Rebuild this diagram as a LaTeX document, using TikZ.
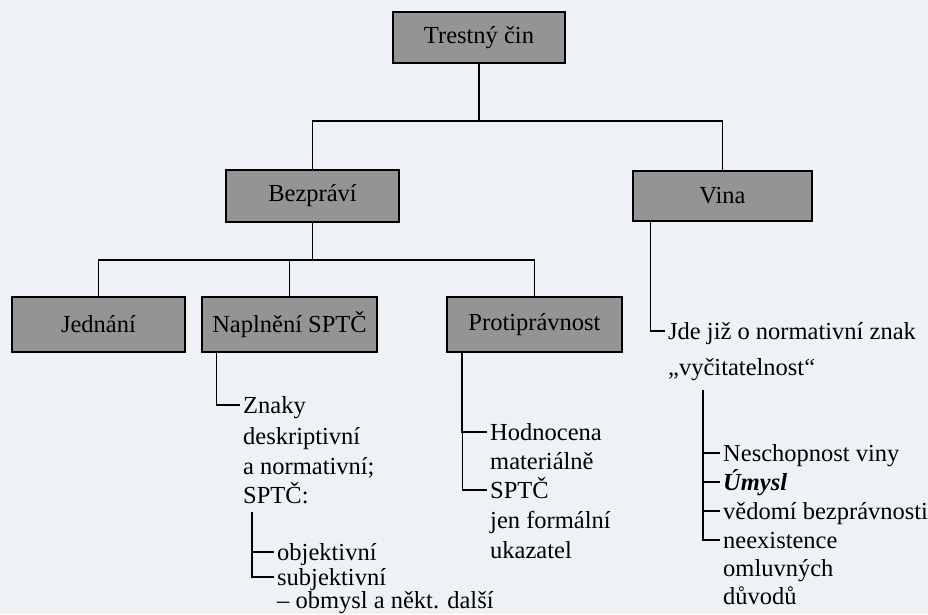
\documentclass[tikz,border=0pt]{standalone}
\usepackage{fontspec}
\setmainfont{Liberation Serif}
\definecolor{boxgray}{RGB}{148,148,148}
\definecolor{pagebg}{RGB}{238,242,246}
\begin{document}
\begin{tikzpicture}[x=1pt,y=-1pt,
  box/.style={draw=black, line width=1.1pt, fill=boxgray, inner sep=0pt, font=\fontsize{24.5}{28}\selectfont},
  txt/.style={anchor=west, inner sep=0pt, text height=17pt, text depth=1pt, font=\fontsize{24.5}{28}\selectfont},
  conn/.style={draw=black, line width=1.1pt}]
\fill[pagebg] (0,0) rectangle (928,614);
\useasboundingbox (0,0) rectangle (928,614);
% boxes
\node[box, minimum width=172pt, minimum height=51pt] (T) at (479,37.5) {Trestný čin};
\node[box, minimum width=173pt, minimum height=52pt] (B) at (312.5,196) {Bezpráví};
\node[box, minimum width=179pt, minimum height=50pt] (V) at (722.5,196) {Vina};
\node[box, minimum width=173pt, minimum height=55pt] (J) at (98.5,324.5) {Jednání};
\node[box, minimum width=175pt, minimum height=55pt] (N) at (289.5,324.5) {Naplnění SPTČ};
\node[box, minimum width=175pt, minimum height=55pt] (P) at (534.5,324.5) {Protiprávnost};
% top level connectors
\coordinate (h1) at (479,121);
\draw[conn] (T.south) -- (h1);
\draw[conn] (B.north) |- (h1) -| (V.north);
\coordinate (h2) at (312.5,260);
\draw[conn] (B.south) -- (h2);
\draw[conn] (J.north) |- (P.north |- h2) -- (P.north);
\draw[conn] (N.north) -- (N.north |- h2);
% Vina branch
\node[txt] (jde) at (668,331) {Jde již o normativní znak};
\node[txt] (vyc) at (668,367) {„vyčitatelnost“};
\draw[conn] ([xshift=-72pt]V.south) |- ([xshift=-3pt]jde.west);
\node[txt] (nesch) at (723,453) {Neschopnost viny};
\node[txt] (umysl) at (723,482) {\bfseries\itshape Úmysl};
\node[txt] (vedomi) at (723,511) {vědomí bezprávnosti};
\node[txt] (neex) at (723,540) {neexistence};
\node[txt] (omluv) at (723,568) {omluvných};
\node[txt] (duvod) at (723,596) {důvodů};
\coordinate (vt) at (703,390);
\draw[conn] (vt) |- ([xshift=-3pt]neex.west);
\draw[conn] (vt |- nesch.west) -- ([xshift=-3pt]nesch.west);
\draw[conn] (vt |- umysl.west) -- ([xshift=-3pt]umysl.west);
\draw[conn] (vt |- vedomi.west) -- ([xshift=-3pt]vedomi.west);
% Naplneni branch
\node[txt] (znaky) at (243,405) {Znaky};
\node[txt] (desk) at (243,436) {deskriptivní};
\node[txt] (norm) at (243,466) {a normativní;};
\node[txt] (sptc) at (243,495) {SPTČ:};
\draw[conn] ([xshift=-73pt]N.south) |- ([xshift=-3pt]znaky.west);
\node[txt] (obj) at (277,552) {objektivní};
\node[txt] (subj) at (277,577) {subjektivní};
\node[txt] (obm) at (277,600) {– obmysl a někt. další};
\coordinate (st) at (252,512);
\draw[conn] (st) |- ([xshift=-3pt]subj.west);
\draw[conn] (st |- obj.west) -- ([xshift=-3pt]obj.west);
% Protipravnost branch
\node[txt] (hodn) at (490,432) {Hodnocena};
\node[txt] (mat) at (490,461) {materiálně};
\node[txt] (spt) at (490,490) {SPTČ};
\node[txt] (jen) at (490,520) {jen formální};
\node[txt] (ukaz) at (490,550) {ukazatel};
\draw[conn] ([xshift=-72pt]P.south) |- ([xshift=-3pt]spt.west);
\draw[conn] (P.south -| spt.west) ++(-28pt,0) |- ([xshift=-3pt]hodn.west);
\end{tikzpicture}
\end{document}
